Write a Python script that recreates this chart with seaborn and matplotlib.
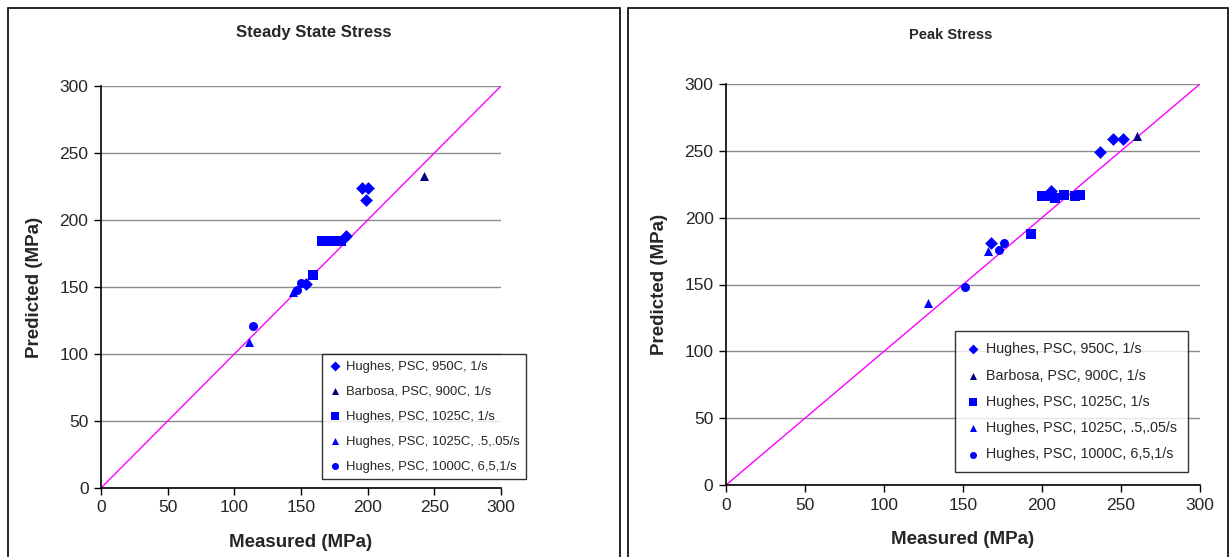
import matplotlib
matplotlib.use("Agg")
import matplotlib.pyplot as plt
import seaborn as sns
from matplotlib.patches import Rectangle

# series names and styles
series_names = ['Hughes, PSC, 950C, 1/s', 'Barbosa, PSC, 900C, 1/s',
                'Hughes, PSC, 1025C, 1/s', 'Hughes, PSC, 1025C, .5,.05/s',
                'Hughes, PSC, 1000C, 6,5,1/s']
series_markers = ['D', '^', 's', '^', 'o']
series_colors = ['#0000FF', '#000080', '#0000FF', '#0000FF', '#0000FF']

# Steady state stress (measured, predicted)
ss_950_x = [196, 200, 199, 184, 154]
ss_950_y = [224, 224, 215, 188, 152]
ss_barbosa_x = [242]
ss_barbosa_y = [233]
ss_1025_x = [159, 166, 169, 174, 177, 180]
ss_1025_y = [159, 184, 184, 184, 184, 184]
ss_1025s_x = [111, 144]
ss_1025s_y = [109, 146]
ss_1000_x = [114, 147, 150]
ss_1000_y = [121, 148, 153]

# Peak stress (measured, predicted)
pk_950_x = [237, 245, 251, 206, 168]
pk_950_y = [249, 259, 259, 220, 181]
pk_barbosa_x = [260]
pk_barbosa_y = [261]
pk_1025_x = [193, 200, 206, 208, 214, 221, 224]
pk_1025_y = [188, 216, 216, 215, 217, 216, 217]
pk_1025s_x = [128, 166]
pk_1025s_y = [136, 175]
pk_1000_x = [151, 173, 176]
pk_1000_y = [148, 176, 181]

ticks = [0, 50, 100, 150, 200, 250, 300]

sns.set_style("white")
plt.rcParams['font.family'] = ['Liberation Sans', 'DejaVu Sans']

fig = plt.figure(figsize=(12.31, 5.57), dpi=100)

# panel frames
fig.patches.append(Rectangle((8 / 1231, -0.02), 612 / 1231, 1.02 - 8 / 557,
                             transform=fig.transFigure, fill=False, ec='black', lw=1.2))
fig.patches.append(Rectangle((628 / 1231, -0.02), 600 / 1231, 1.02 - 8 / 557,
                             transform=fig.transFigure, fill=False, ec='black', lw=1.2))

ax1 = fig.add_axes([101 / 1231, 1 - 488 / 557, 400 / 1231, 402 / 557])
ax2 = fig.add_axes([726 / 1231, 1 - 485 / 557, 474 / 1231, 401 / 557])

# per panel: axes, title, data, legend anchor, title position (fig px), legend style
panels = [
    (ax1, 'Steady State Stress',
     [(ss_950_x, ss_950_y), (ss_barbosa_x, ss_barbosa_y), (ss_1025_x, ss_1025_y),
      (ss_1025s_x, ss_1025s_y), (ss_1000_x, ss_1000_y)],
     (0.5525, 0.022), (314, 33), 12,
     dict(fontsize=9.4, labelspacing=0.98, handletextpad=0.3, borderpad=0.5)),
    (ax2, 'Peak Stress',
     [(pk_950_x, pk_950_y), (pk_barbosa_x, pk_barbosa_y), (pk_1025_x, pk_1025_y),
      (pk_1025s_x, pk_1025s_y), (pk_1000_x, pk_1000_y)],
     (0.483, 0.032), (951, 35), 10.5,
     dict(fontsize=10.3, labelspacing=0.86, handletextpad=0.45, borderpad=0.75)),
]

for ax, title, data, anchor, tpos, tsize, legkw in panels:
    ax.axline((0, 0), slope=1, color='#FF00FF', lw=1, zorder=2)
    for (xs, ys), name, mk, col in zip(data, series_names, series_markers, series_colors):
        sns.scatterplot(x=xs, y=ys, marker=mk, color=col, s=42, edgecolor=col,
                        linewidth=0, label=name, ax=ax, zorder=3)
    ax.set_xlim(0, 300)
    ax.set_ylim(0, 300)
    ax.set_xticks(ticks)
    ax.set_yticks(ticks)
    ax.yaxis.grid(True, color='#8c8c8c', lw=1)
    ax.xaxis.grid(False)
    ax.set_axisbelow(True)
    for side in ['top', 'right']:
        ax.spines[side].set_visible(False)
    for side in ['left', 'bottom']:
        ax.spines[side].set_color('black')
        ax.spines[side].set_linewidth(1.2)
    ax.tick_params(axis='both', direction='out', length=5, width=1, color='black',
                   labelsize=12.5, pad=4, left=True, bottom=True)
    ax.set_xlabel('Measured (MPa)', fontsize=13.5, fontweight='bold', labelpad=13)
    ax.set_ylabel('Predicted (MPa)', fontsize=13.5, fontweight='bold', labelpad=11.5)
    fig.text(tpos[0] / 1231, 1 - tpos[1] / 557, title, ha='center', va='center',
             fontsize=tsize, fontweight='bold')
    leg = ax.legend(loc='lower left', bbox_to_anchor=anchor, borderaxespad=0,
                    frameon=True, fancybox=False, edgecolor='black',
                    markerscale=0.78, handlelength=1.0, **legkw)
    leg.get_frame().set_linewidth(1)
    leg.set_zorder(5)

fig.savefig('out.png', dpi=100)
